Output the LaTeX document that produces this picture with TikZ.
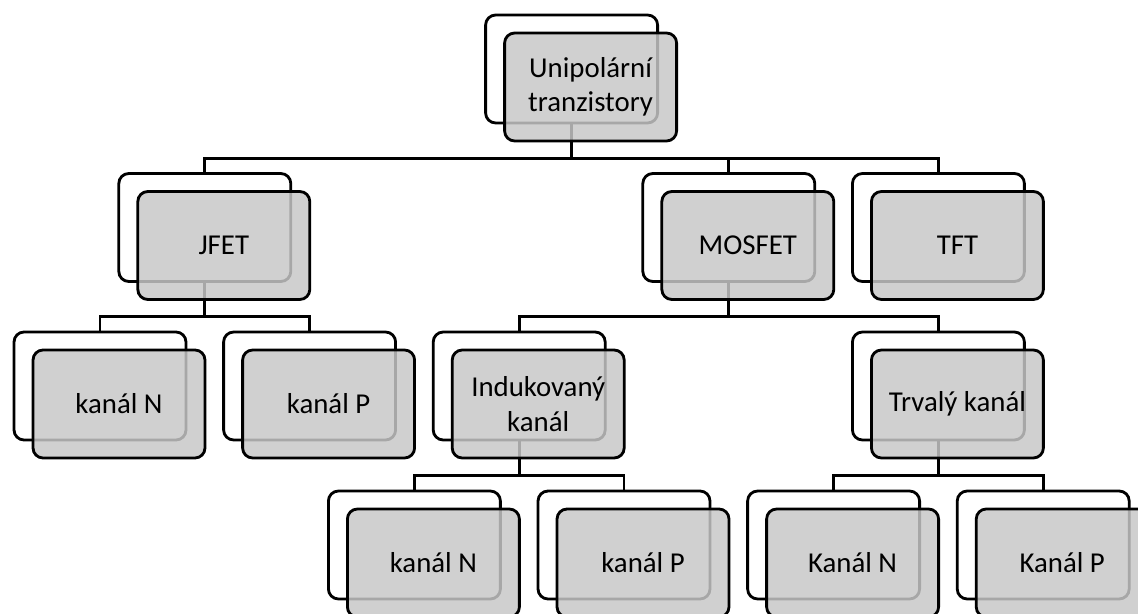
\documentclass[tikz,border=0pt]{standalone}
\usepackage{fontspec}
\setmainfont{Carlito}
\usepackage{xcolor}
\usepackage{tikz}
\usetikzlibrary{shapes}

\definecolor{boxgray}{RGB}{199,199,199}
\tikzset{
	back/.style={draw, line width=1.6pt, rounded corners=0.2cm, fill=white,
		minimum width=3.44cm, minimum height=2.16cm},
	front/.style={back, fill=boxgray, fill opacity=0.84, text opacity=1,
		align=center, font=\fontsize{16.4}{19.5}\selectfont},
	link/.style={to path={(\tikztostart.south) -- ++(0,34) -| (\tikztotarget.north)}}
}

\begin{document}
\begin{tikzpicture}[x=0.02cm,y=-0.02cm]
		\useasboundingbox (0,0) rectangle (1138,614);
		% back boxes
		\node[back] (U') at (571.6,69) {};
		\node[back] (J') at (204.8,227.5) {};
		\node[back] (M') at (728.8,227.5) {};
		\node[back] (T') at (938.4,227.5) {};
		\node[back] (JN') at (100,386) {};
		\node[back] (JP') at (309.6,386) {};
		\node[back] (I') at (519.2,386) {};
		\node[back] (R') at (938.4,386) {};
		\node[back] (IN') at (414.4,545) {};
		\node[back] (IP') at (624,545) {};
		\node[back] (RN') at (833.6,545) {};
		\node[back] (RP') at (1043.2,545) {};
		%
		\path[line width=1.6pt]
		(U') edge[link] (J')
		(U') edge[link] (M')
		(U') edge[link] (T')
		(J') edge[link] (JN')
		(J') edge[link] (JP')
		(M') edge[link] (I')
		(M') edge[link] (R')
		(I') edge[link] (IN')
		(I') edge[link] (IP')
		(R') edge[link] (RN')
		(R') edge[link] (RP');
		%
		% front boxes
		\node[front] (U) at (590.6,87) {Unipolární\\tranzistory};
		\node[front] (J) at (223.8,245.5) {JFET};
		\node[front] (M) at (747.8,245.5) {MOSFET};
		\node[front] (T) at (957.4,245.5) {TFT};
		\node[front] (JN) at (119,404) {kanál N};
		\node[front] (JP) at (328.6,404) {kanál P};
		\node[front] (I) at (538.2,404) {Indukovaný\\kanál};
		\node[front] (R) at (957.4,404) {Trvalý kanál};
		\node[front] (IN) at (433.4,563) {kanál N};
		\node[front] (IP) at (643,563) {kanál P};
		\node[front] (RN) at (852.6,563) {Kanál N};
		\node[front] (RP) at (1062.2,563) {Kanál P};
\end{tikzpicture}
\end{document}
